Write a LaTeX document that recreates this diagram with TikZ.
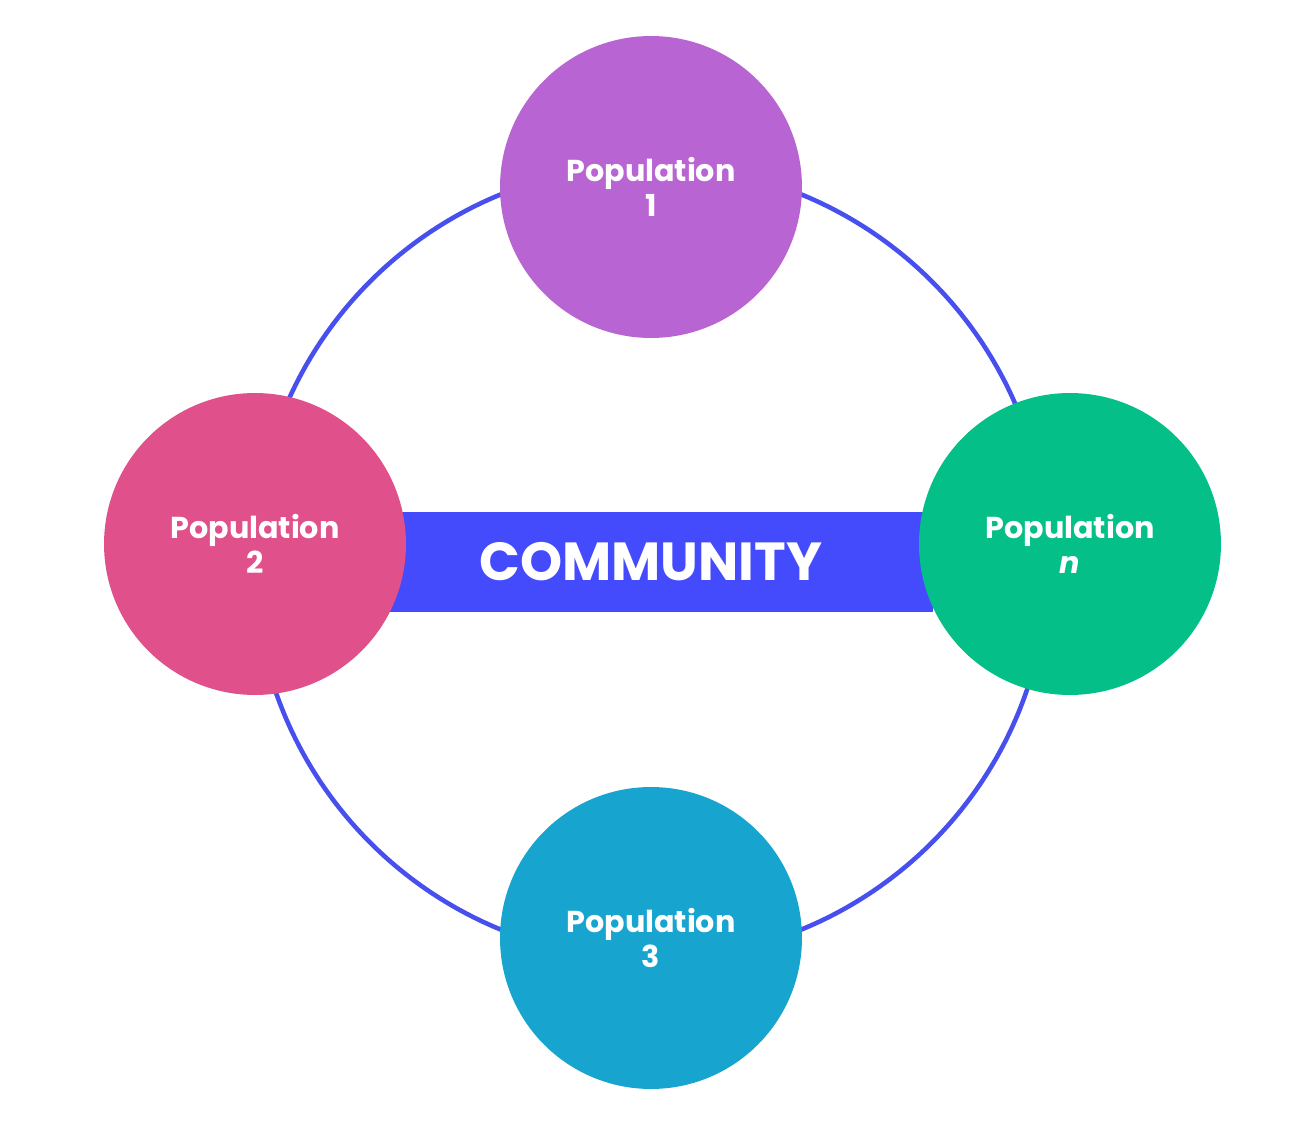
\documentclass[tikz,border=0pt]{standalone}
\usepackage{fontspec}
\setmainfont{Poppins}
\usepackage{tikz}
\usetikzlibrary{positioning}
\usepackage{xcolor}
\definecolor{ringblue}{HTML}{474FEE}
\definecolor{barblue}{HTML}{434BFD}
\definecolor{popviolet}{HTML}{B964D3}
\definecolor{poppink}{HTML}{E0508A}
\definecolor{popgreen}{HTML}{04BF87}
\definecolor{popteal}{HTML}{17A5CF}

\begin{document}
\begin{tikzpicture}[x=0.02cm, y=-0.02cm,
  every node/.style={font=\fontsize{17.2}{20}\selectfont\bfseries, text=white},
  pop/.style={circle, draw=none, minimum size=6.04cm, inner sep=0pt, align=center}]
  \useasboundingbox (0,0) rectangle (1303,1125);
  % Ring and central bar (behind the populations)
  \coordinate (mid) at (651,562);
  \draw[ringblue, line width=2.6pt] (mid) circle (397);
  \node[fill=barblue, minimum width=11.3cm, minimum height=2cm, inner sep=0pt,
        font=\fontsize{30.5}{34}\selectfont\bfseries] (comm) at (mid) {COMMUNITY};
  % Populations
  \node[pop, fill=popviolet] (p1) at (651,187) {Population\\1};
  \node[pop, fill=poppink]   (p2) at (255,544) {Population\\2};
  \node[pop, fill=popgreen]  (pn) at (1070,544) {Population\\\textit{n}};
  \node[pop, fill=popteal]   (p3) at (651,938) {Population\\3};
\end{tikzpicture}
\end{document}
